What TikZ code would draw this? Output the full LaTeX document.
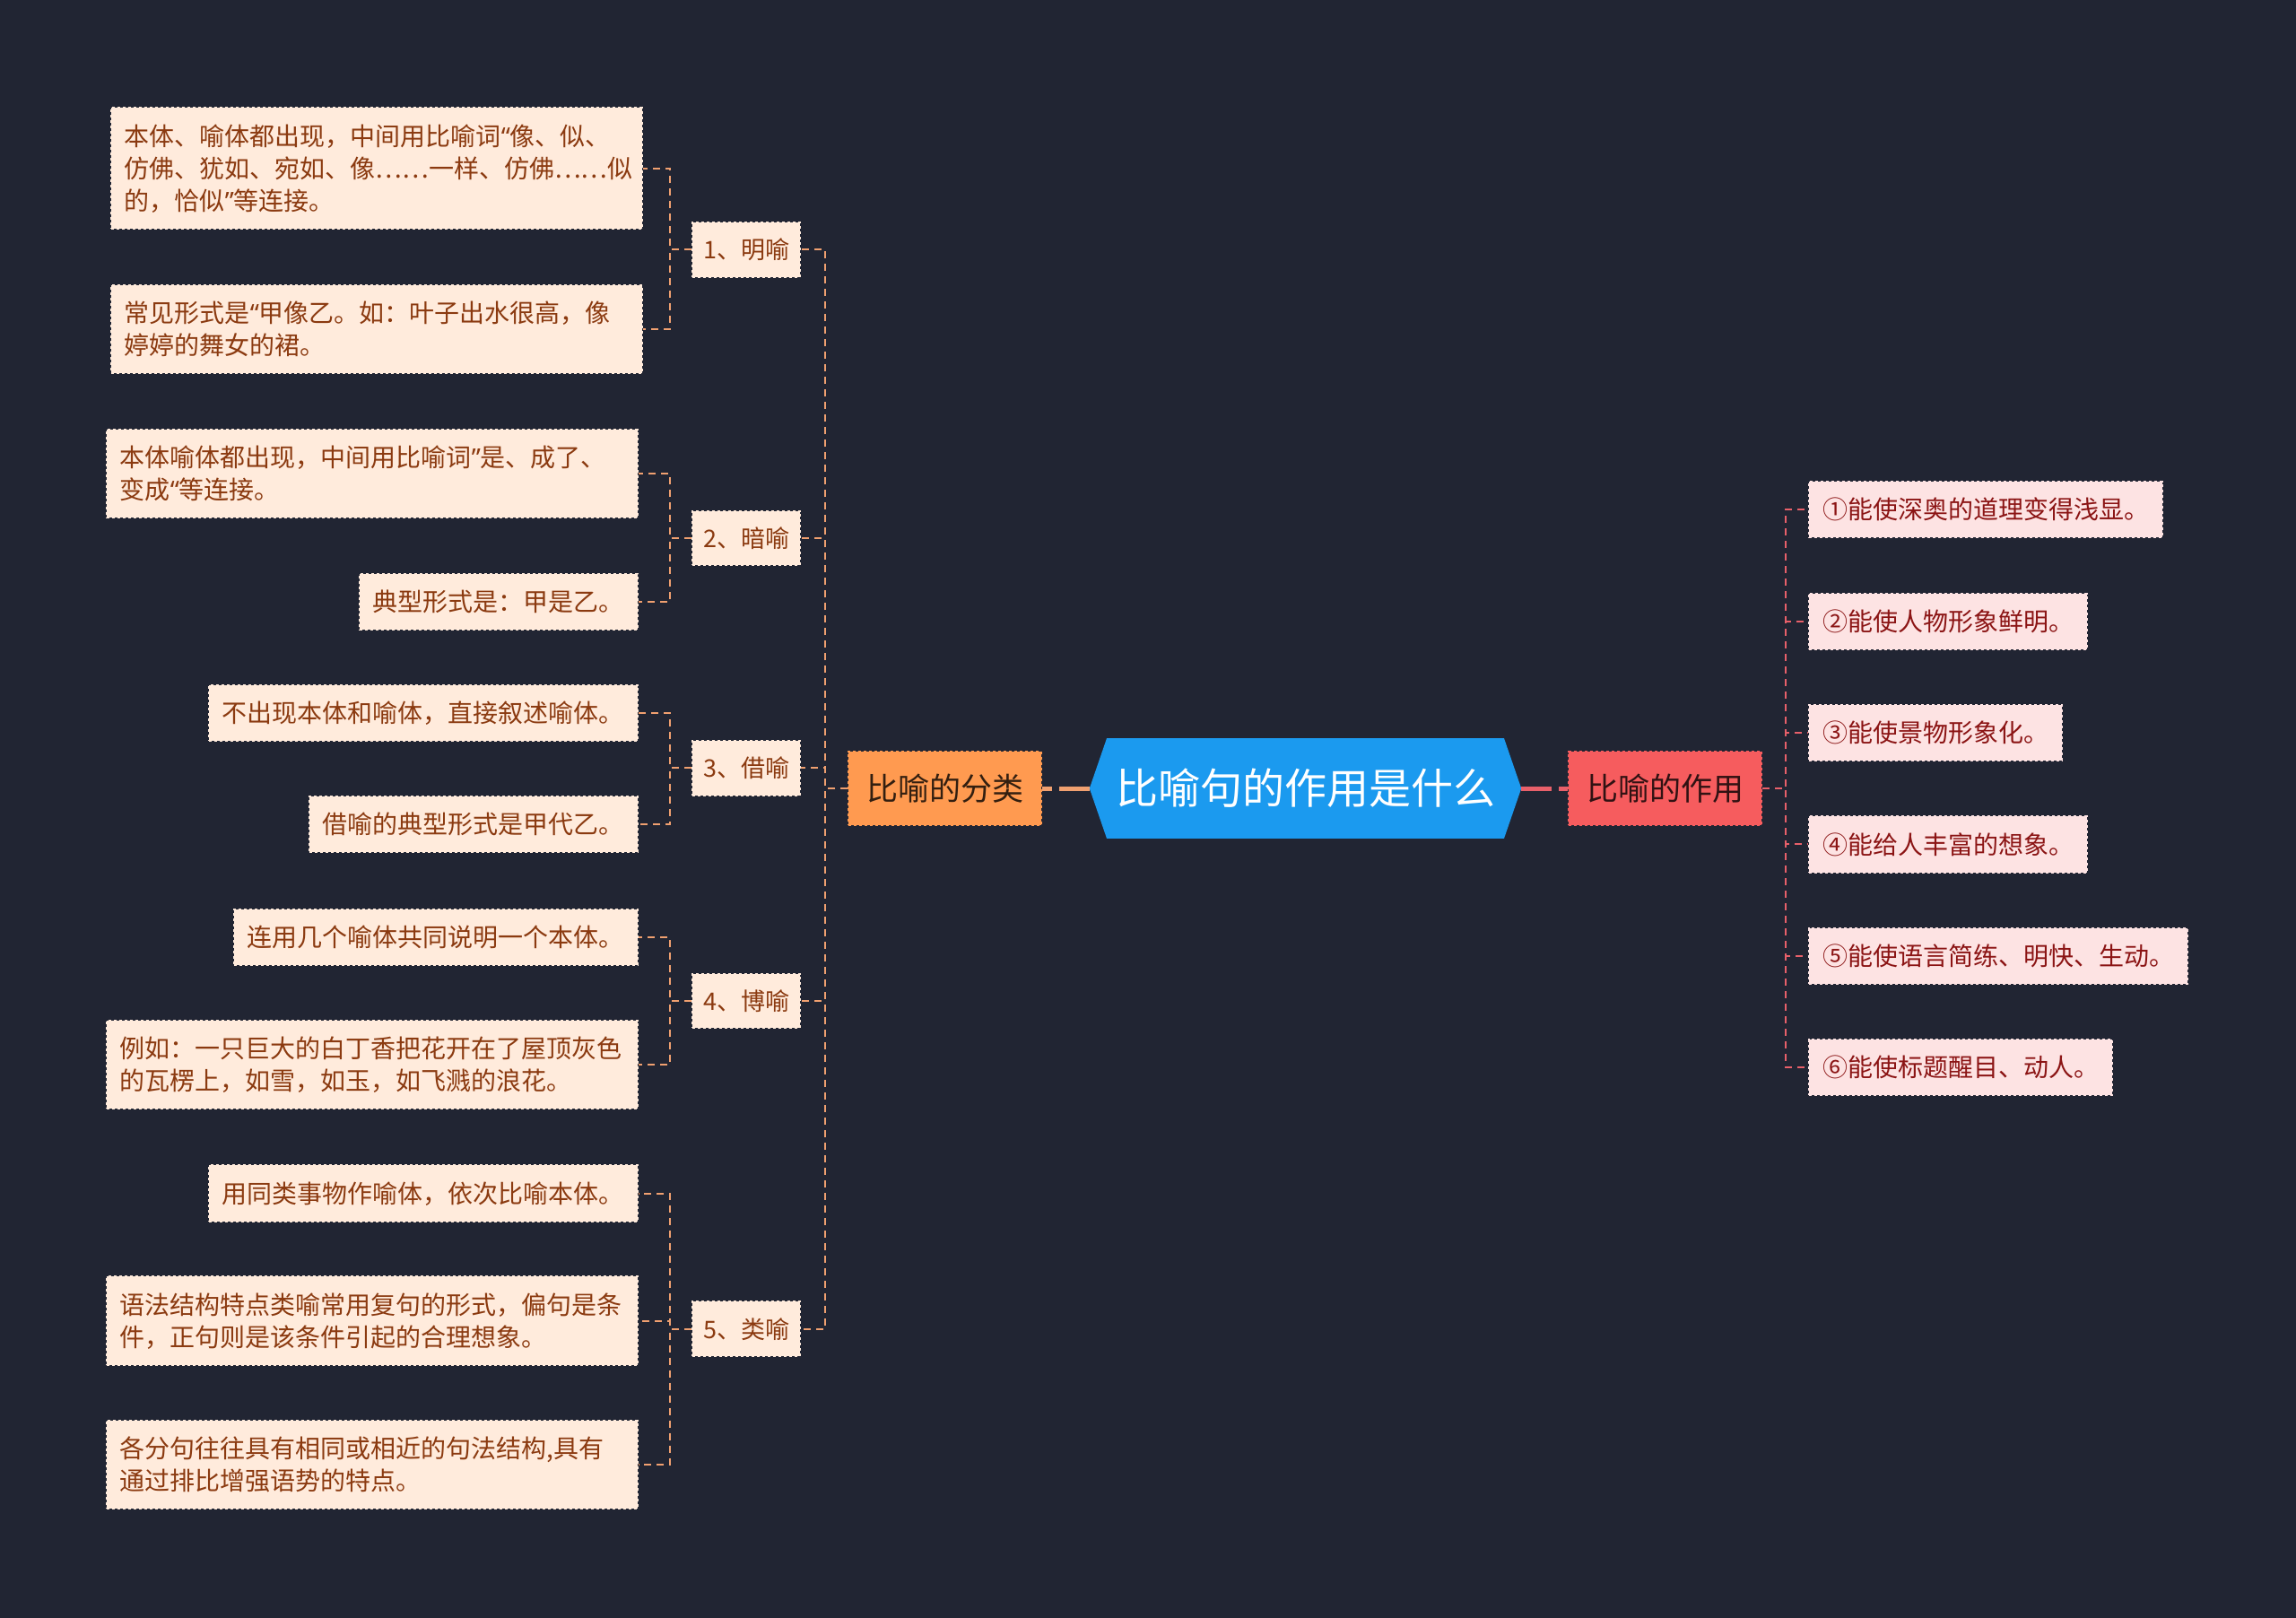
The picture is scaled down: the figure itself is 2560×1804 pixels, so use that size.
\documentclass[tikz,border=0pt]{standalone}
\usepackage{fontspec}
\setmainfont{Noto Sans CJK SC}
\newfontfamily\quotefont{Noto Sans}
\newcommand{\openq}{{\quotefont “}}
\newcommand{\closeq}{{\quotefont ”}}
\usetikzlibrary{shapes.symbols}
\definecolor{bg}{HTML}{212533}
\definecolor{rootblue}{HTML}{1B9AEF}
\definecolor{kindorange}{HTML}{FF9A50}
\definecolor{usered}{HTML}{F65C5E}
\definecolor{peach}{HTML}{FFEBDC}
\definecolor{peachink}{HTML}{8B3A10}
\definecolor{pink}{HTML}{FDE3E3}
\definecolor{pinkink}{HTML}{8B1414}
\definecolor{kindline}{HTML}{F0A070}
\definecolor{useline}{HTML}{E8606A}
\tikzset{
  rootnode/.style={signal, signal to=west and east, signal pointer angle=142,
    fill=rootblue, text=white, font=\fontsize{47}{56}\selectfont,
    inner xsep=10pt, inner ysep=34pt},
  headbox/.style={dashed, line width=2pt, font=\fontsize{35}{42}\selectfont,
    inner xsep=20pt, inner ysep=25pt},
  kindleaf/.style={fill=peach, draw=peach, dashed, line width=2pt, text=peachink,
    font=\fontsize{28}{36}\selectfont, inner xsep=15pt, inner ysep=18pt,
    align=left, anchor=east},
  kindwide/.style={kindleaf, text width=562pt},
  kindsub/.style={kindleaf, inner xsep=12pt, font=\fontsize{27}{36}\selectfont},
  useleaf/.style={fill=pink, draw=pink, dashed, line width=2pt, text=pinkink,
    font=\fontsize{28}{36}\selectfont, inner xsep=15pt, inner ysep=18pt, anchor=west},
  kindlink/.style={kindline, line width=2pt, dash pattern=on 8pt off 6pt},
  uselink/.style={useline, line width=2pt, dash pattern=on 8pt off 6pt},
  mainlink/.style={line width=5pt, dash pattern=on 34pt off 8pt},
}
\begin{document}
\begin{tikzpicture}[x=1pt,y=-1pt]
  \fill[bg] (0,0) rectangle (2560,1804);
  \useasboundingbox (0,0) rectangle (2560,1804);
  % centre and the two main branches
  \node[rootnode] (root) at (1455.5,879) {比喻句的作用是什么};
  \node[headbox, fill=kindorange, draw=kindorange, text=black!80!kindorange] (kind) at (1053.5,879) {比喻的分类};
  \node[headbox, fill=usered, draw=usered, text=black!80!usered] (use) at (1856.5,879) {比喻的作用};
  \draw[mainlink, kindline] (root.west) -- (kind.east);
  \draw[mainlink, useline] (root.east) -- (use.west);
  % left: the five kinds
  \node[kindsub] (ming) at (893,278.4) {1、明喻};
  \node[kindsub] (an) at (893,600) {2、暗喻};
  \node[kindsub] (jie) at (893,856.3) {3、借喻};
  \node[kindsub] (bo) at (893,1116) {4、博喻};
  \node[kindsub] (lei) at (893,1481.7) {5、类喻};
  \foreach \k in {ming,an,jie,bo,lei}
    \draw[kindlink] (kind.west) -- ++(-25,0) |- (\k.east);
  % leaves of the kinds
  \node[kindwide] (ming1) at (716.8,187.8) {本体、喻体都出现，中间用比喻词\openq 像、似、\\仿佛、犹如、宛如、像……一样、仿佛……似\\的，恰似\closeq 等连接。};
  \node[kindwide] (ming2) at (716.8,367.3) {常见形式是\openq 甲像乙。如：叶子出水很高，像\\婷婷的舞女的裙。};
  \node[kindwide] (an1) at (711.9,528.2) {本体喻体都出现，中间用比喻词\closeq 是、成了、\\变成\openq 等连接。};
  \node[kindleaf] (an2) at (711.9,671) {典型形式是：甲是乙。};
  \node[kindleaf] (jie1) at (711.9,795.1) {不出现本体和喻体，直接叙述喻体。};
  \node[kindleaf] (jie2) at (711.9,919.2) {借喻的典型形式是甲代乙。};
  \node[kindleaf] (bo1) at (711.9,1045) {连用几个喻体共同说明一个本体。};
  \node[kindwide] (bo2) at (711.9,1187) {例如：一只巨大的白丁香把花开在了屋顶灰色\\的瓦楞上，如雪，如玉，如飞溅的浪花。};
  \node[kindleaf] (lei1) at (711.9,1330.7) {用同类事物作喻体，依次比喻本体。};
  \node[kindwide] (lei2) at (711.9,1472.7) {语法结构特点类喻常用复句的形式，偏句是条\\件，正句则是该条件引起的合理想象。};
  \node[kindwide] (lei3) at (711.9,1632.7) {各分句往往具有相同或相近的句法结构,具有\\通过排比增强语势的特点。};
  \foreach \k/\l in {ming/ming1,ming/ming2,an/an1,an/an2,jie/jie1,jie/jie2,
                     bo/bo1,bo/bo2,lei/lei1,lei/lei2,lei/lei3}
    \draw[kindlink] (\k.west) -- ++(-24,0) |- (\l.east);
  % right: what a simile does
  \node[useleaf] (use1) at (2016,568.2) {①能使深奥的道理变得浅显。};
  \node[useleaf] (use2) at (2016,692.6) {②能使人物形象鲜明。};
  \node[useleaf] (use3) at (2016,817) {③能使景物形象化。};
  \node[useleaf] (use4) at (2016,941.4) {④能给人丰富的想象。};
  \node[useleaf] (use5) at (2016,1065.8) {⑤能使语言简练、明快、生动。};
  \node[useleaf] (use6) at (2016,1190.2) {⑥能使标题醒目、动人。};
  \foreach \u in {use1,use2,use3,use4,use5,use6}
    \draw[uselink] (use.east) -- ++(26,0) |- (\u.west);
\end{tikzpicture}
\end{document}
